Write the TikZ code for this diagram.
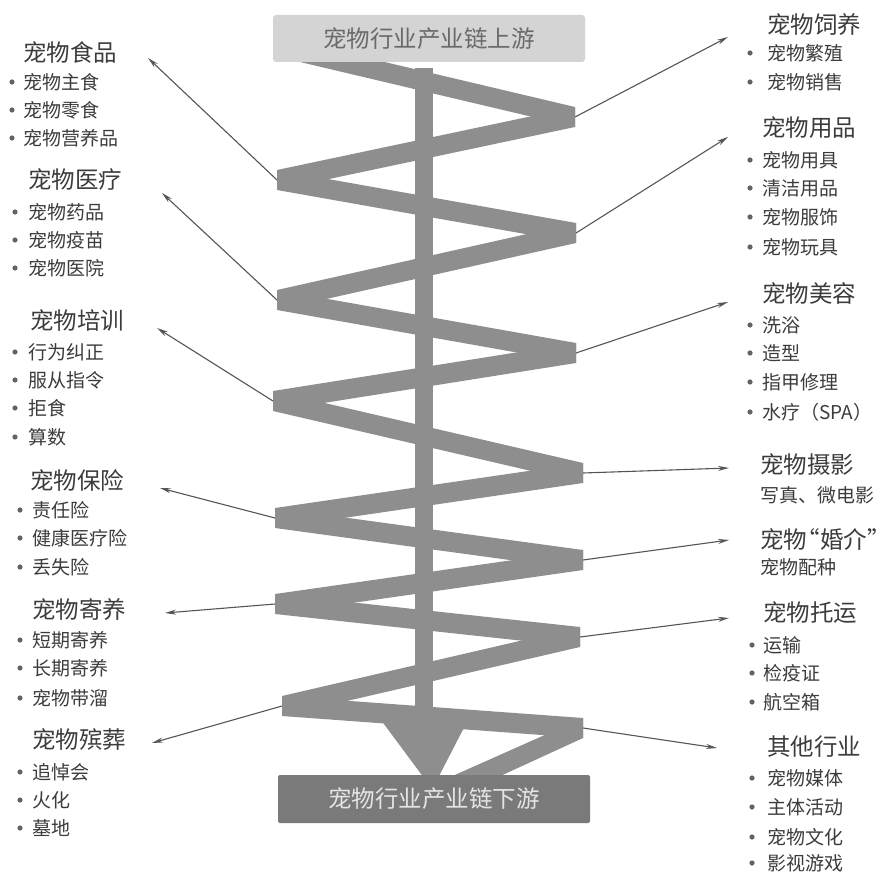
\documentclass[tikz,border=0pt]{standalone}
\usepackage{fontspec}
\newfontfamily\cjk{Noto Sans CJK SC}
\usetikzlibrary{arrows.meta}
\definecolor{bandgray}{HTML}{8E8E8E}
\definecolor{topfill}{HTML}{D4D4D4}
\definecolor{toptext}{HTML}{6A6A6A}
\definecolor{botfill}{HTML}{7A7A7A}
\definecolor{bottext}{HTML}{E4E4E4}
\definecolor{txt}{HTML}{3C3C3C}
\definecolor{arrgray}{HTML}{555555}
\tikzset{
  band/.style={fill=bandgray},
  arr/.style={draw=arrgray, line width=1.1pt, -{Stealth[length=11pt,width=5pt]}},
  ttl/.style={anchor=west, inner sep=0pt, text=txt, font=\cjk\fontsize{23.5}{24}\selectfont},
  itm/.style={anchor=west, inner sep=0pt, text=txt, font=\cjk\fontsize{19}{20}\selectfont},
  bul/.style={fill=txt!80},
}
\begin{document}
\begin{tikzpicture}[x=1pt,y=-1pt]
\useasboundingbox (0,0) rectangle (890,874);
\fill[white] (0,0) rectangle (890,874);
% vertices
\coordinate (P0) at (300,52);
\coordinate (R1) at (575,117);
\coordinate (L1) at (277,180);
\coordinate (R2) at (576,233);
\coordinate (L2) at (277,300);
\coordinate (R3) at (576,353);
\coordinate (L3) at (273,401);
\coordinate (R4) at (583,473);
\coordinate (L4) at (275,518);
\coordinate (R5) at (583,560);
\coordinate (L5) at (275,604);
\coordinate (R6) at (580,637);
\coordinate (L6) at (282,706);
\coordinate (R7) at (583,728);
% zigzag band
\foreach \xa/\ya/\xb/\yb in {300/52/575/117, 575/117/277/180, 277/180/576/233, 576/233/277/300,
  277/300/576/353, 576/353/273/401, 273/401/583/473, 583/473/275/518, 275/518/583/560,
  583/560/275/604, 275/604/580/637, 580/637/282/706, 282/706/583/728}
  \fill[band] (\xa,\ya-10) -- (\xb,\yb-10) -- (\xb,\yb+10) -- (\xa,\ya+10) -- cycle;
% last segment to bottom
\fill[band] (583,718) -- (583,738) -- (496,778) -- (448,778) -- cycle;
% trunk and arrowhead
\fill[band] (415,68) rectangle (433,720);
\fill[band] (378,716) -- (470,716) -- (438,778) -- (424,778) -- cycle;
% boxes
\node[fill=topfill, rounded corners=3pt, minimum width=312pt, minimum height=47pt, inner sep=0pt,
  text=toptext, font=\cjk\fontsize{23.5}{24}\selectfont] (top) at (429,38.5) {宠物行业产业链上游};
\node[fill=botfill, rounded corners=2pt, minimum width=312pt, minimum height=48pt, inner sep=0pt,
  text=bottext, font=\cjk\fontsize{23.5}{24}\selectfont] (bot) at (434,799) {宠物行业产业链下游};
% arrow tips
\coordinate (a1) at (148,58);
\coordinate (a2) at (162,193);
\coordinate (a3) at (157,328);
\coordinate (a4) at (160,488);
\coordinate (a5) at (165,613);
\coordinate (a6) at (152,743);
\coordinate (b1) at (728,37);
\coordinate (b2) at (728,137);
\coordinate (b3) at (728,302);
\coordinate (b4) at (729,468);
\coordinate (b5) at (729,540);
\coordinate (b6) at (729,618);
\coordinate (b7) at (717,748);
\draw[arr] (L1) -- (a1);
\draw[arr] (L2) -- (a2);
\draw[arr] (L3) -- (a3);
\draw[arr] (L4) -- (a4);
\draw[arr] (L5) -- (a5);
\draw[arr] (L6) -- (a6);
\draw[arr] (R1) -- (b1);
\draw[arr] (R2) -- (b2);
\draw[arr] (R3) -- (b3);
\draw[arr] (R4) -- (b4);
\draw[arr] (R5) -- (b5);
\draw[arr] (R6) -- (b6);
\draw[arr] (R7) -- (b7);
% left texts
\node[ttl] (t1) at (23,52) {宠物食品};
\foreach \t/\y in {宠物主食/82, 宠物零食/110, 宠物营养品/138}
  {\fill[bul] (12,\y) circle (2.6); \node[itm] (i1-\y) at (23,\y) {\t};}
\node[ttl] (t2) at (28,180) {宠物医疗};
\foreach \t/\y in {宠物药品/212, 宠物疫苗/240, 宠物医院/268}
  {\fill[bul] (15,\y) circle (2.6); \node[itm] (i2-\y) at (28,\y) {\t};}
\node[ttl] (t3) at (30,320) {宠物培训};
\foreach \t/\y in {行为纠正/352, 服从指令/380, 拒食/408, 算数/437}
  {\fill[bul] (15,\y) circle (2.6); \node[itm] (i3-\y) at (28,\y) {\t};}
\node[ttl] (t4) at (30,480) {宠物保险};
\foreach \t/\y in {责任险/510, 健康医疗险/538, 丢失险/567}
  {\fill[bul] (20,\y) circle (2.6); \node[itm] (i4-\y) at (32,\y) {\t};}
\node[ttl] (t5) at (32,610) {宠物寄养};
\foreach \t/\y in {短期寄养/640, 长期寄养/668, 宠物带溜/698}
  {\fill[bul] (20,\y) circle (2.6); \node[itm] (i5-\y) at (32,\y) {\t};}
\node[ttl] (t6) at (32,740) {宠物殡葬};
\foreach \t/\y in {追悼会/772, 火化/800, 墓地/828}
  {\fill[bul] (20,\y) circle (2.6); \node[itm] (i6-\y) at (32,\y) {\t};}
% right texts
\node[ttl] (s1) at (767,25) {宠物饲养};
\foreach \t/\y in {宠物繁殖/53, 宠物销售/82}
  {\fill[bul] (750,\y) circle (2.6); \node[itm] (j1-\y) at (767,\y) {\t};}
\node[ttl] (s2) at (762,128) {宠物用品};
\foreach \t/\y in {宠物用具/160, 清洁用品/188, 宠物服饰/217, 宠物玩具/247}
  {\fill[bul] (750,\y) circle (2.6); \node[itm] (j2-\y) at (762,\y) {\t};}
\node[ttl] (s3) at (762,293) {宠物美容};
\foreach \t/\y in {洗浴/325, 造型/353, 指甲修理/382, 水疗（SPA）/412}
  {\fill[bul] (750,\y) circle (2.6); \node[itm] (j3-\y) at (762,\y) {\t};}
\node[ttl] (s4) at (760,465) {宠物摄影};
\node[itm] (s4a) at (760,495) {写真、微电影};
\node[ttl] (s5) at (760,540) {宠物\makebox[0.55em][r]{“}婚介\makebox[0.55em][l]{”}};
\node[itm] (s5a) at (760,567) {宠物配种};
\node[ttl] (s6) at (763,613) {宠物托运};
\foreach \t/\y in {运输/645, 检疫证/673, 航空箱/702}
  {\fill[bul] (752,\y) circle (2.6); \node[itm] (j6-\y) at (763,\y) {\t};}
\node[ttl] (s7) at (767,747) {其他行业};
\foreach \t/\y in {宠物媒体/778, 主体活动/807, 宠物文化/837, 影视游戏/863}
  {\fill[bul] (752,\y) circle (2.6); \node[itm] (j7-\y) at (767,\y) {\t};}
\end{tikzpicture}
\end{document}
